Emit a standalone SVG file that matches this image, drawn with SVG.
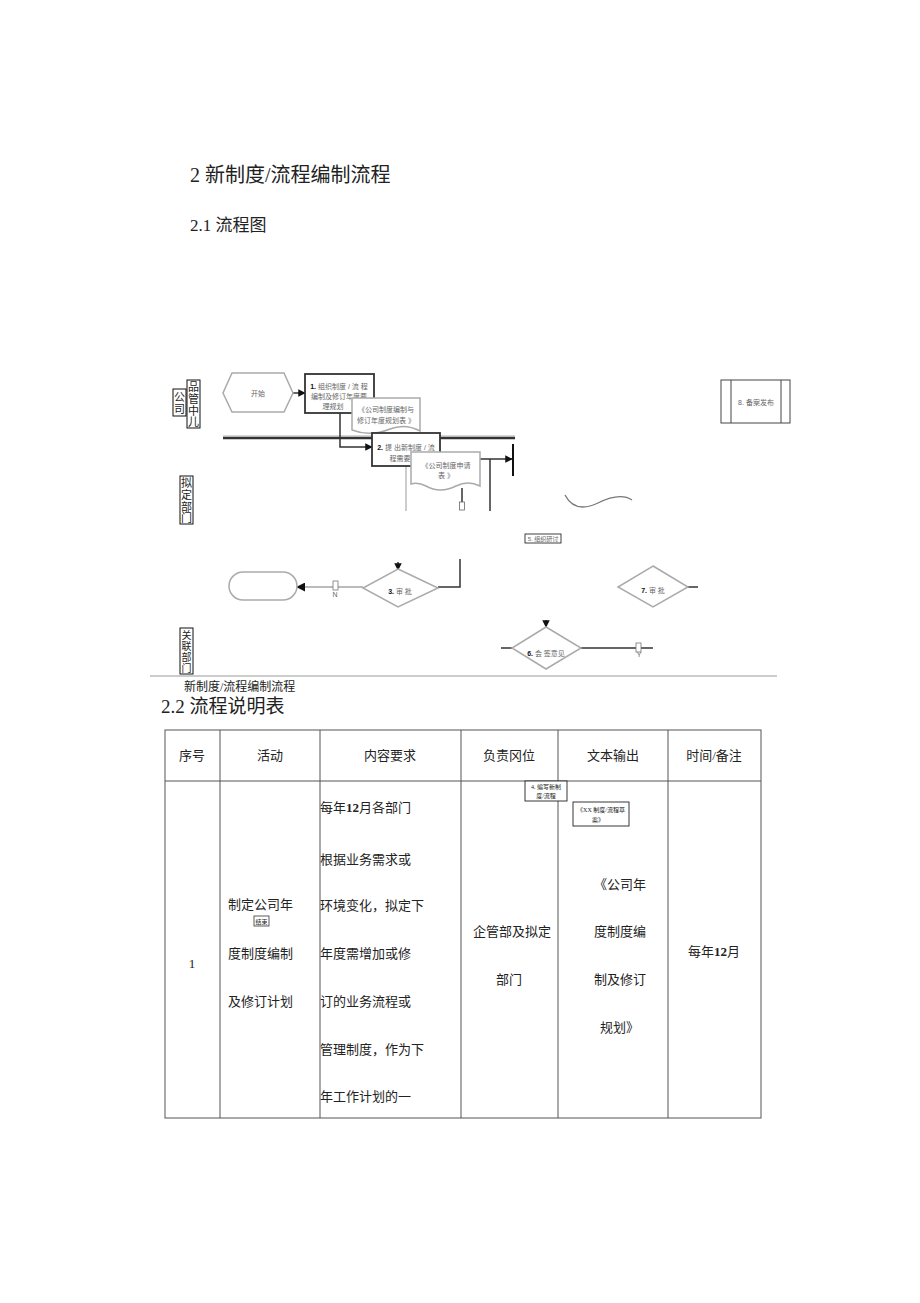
<svg xmlns="http://www.w3.org/2000/svg" width="920" height="1303" viewBox="0 0 920 1303">
<defs>
<style>
.t{font-family:"Liberation Serif","Noto Sans CJK SC",serif;fill:#222}
.s{font-family:"Liberation Sans","Noto Sans CJK SC",sans-serif;fill:#666}
.g{fill:#fff;stroke:#aaa;stroke-width:1.5}
.b{fill:#fff;stroke:#333;stroke-width:1.8}
.l{fill:none;stroke:#333;stroke-width:1.5}
.lg{fill:none;stroke:#999;stroke-width:1}
.tb{fill:none;stroke:#555;stroke-width:1}
.lb{fill:#fff;stroke:#111;stroke-width:1}
</style>
<marker id="ah" viewBox="0 0 10 10" refX="9" refY="5" markerWidth="5" markerHeight="5" orient="auto"><path d="M0,0L10,5L0,10z" fill="#111"/></marker>
</defs>
<rect width="920" height="1303" fill="#fff"/>
<text class="t" x="190" y="182" font-size="20">2 新制度/流程编制流程</text>
<text class="t" x="190" y="231" font-size="17">2.1 流程图</text>

<g id="lanes">
<rect class="lb" x="173" y="389" width="13" height="27"/>
<text class="t" x="179.5" y="401" font-size="11" text-anchor="middle">公</text>
<text class="t" x="179.5" y="413" font-size="11" text-anchor="middle">司</text>
<rect class="lb" x="187" y="380" width="13" height="48"/>
<text class="t" x="193.5" y="391" font-size="11" text-anchor="middle">品</text>
<text class="t" x="193.5" y="403" font-size="11" text-anchor="middle">管</text>
<text class="t" x="193.5" y="415" font-size="11" text-anchor="middle">中</text>
<text class="t" x="193.5" y="426" font-size="11" text-anchor="middle">儿</text>
<rect class="lb" x="180" y="476" width="13" height="48"/>
<text class="t" x="186.5" y="487" font-size="11" text-anchor="middle">拟</text>
<text class="t" x="186.5" y="499" font-size="11" text-anchor="middle">定</text>
<text class="t" x="186.5" y="511" font-size="11" text-anchor="middle">部</text>
<text class="t" x="186.5" y="522" font-size="11" text-anchor="middle">门</text>
<rect class="lb" x="180" y="628" width="13" height="46"/>
<text class="t" x="186.5" y="639" font-size="10" text-anchor="middle">关</text>
<text class="t" x="186.5" y="650" font-size="10" text-anchor="middle">联</text>
<text class="t" x="186.5" y="661" font-size="10" text-anchor="middle">部</text>
<text class="t" x="186.5" y="672" font-size="10" text-anchor="middle">门</text>
</g>

<g id="connectors">
<line x1="223" y1="438" x2="515" y2="438" stroke="#333" stroke-width="2.5"/>
<line x1="223" y1="436" x2="515" y2="436" stroke="#aaa" stroke-width="1"/>
<line class="l" x1="293" y1="393" x2="305" y2="393" marker-end="url(#ah)"/>
<polyline class="l" points="340,413 340,447 372,447" marker-end="url(#ah)"/>
<polyline class="l" points="480,459 512,459" marker-end="url(#ah)"/>
<line x1="513" y1="444" x2="513" y2="476" stroke="#111" stroke-width="2"/>
<line class="lg" x1="406" y1="466" x2="406" y2="511"/>
<line class="l" x1="462" y1="488" x2="462" y2="503" stroke-width="1"/>
<rect x="459.5" y="502" width="5" height="8" fill="#fff" stroke="#666" stroke-width="0.8"/>
<line class="l" x1="490" y1="459" x2="490" y2="511" stroke-width="1.2"/>
<polyline class="l" points="460,559 460,587 438,587"/>
<polyline class="l" points="398,562 398,570" marker-end="url(#ah)"/>
<line x1="363" y1="587" x2="297" y2="587" stroke="#bbb" stroke-width="1.8" marker-end="url(#ah)"/>
<rect x="333" y="581" width="5" height="9" fill="#fff" stroke="#777" stroke-width="0.8"/>
<text class="s" x="335" y="597" font-size="7" text-anchor="middle" fill="#333">N</text>
<line class="l" x1="688" y1="587" x2="698" y2="587"/>
<polyline class="l" points="546,620 546,627" marker-end="url(#ah)"/>
<line class="l" x1="501" y1="648" x2="512" y2="648"/>
<line class="l" x1="581" y1="648" x2="653" y2="648"/>
<rect x="636" y="643" width="5" height="9" fill="#fff" stroke="#777" stroke-width="0.8"/>
<text class="s" x="639" y="657" font-size="7" text-anchor="middle" fill="#333">Y</text>
<path d="M565,495 Q575,514 598,503 Q620,492 632,500" fill="none" stroke="#777" stroke-width="1.3"/>
<line x1="150" y1="676" x2="777" y2="676" stroke="#999" stroke-width="1"/>
</g>

<g id="start">
<polygon class="g" points="232,373 284,373 293,393 284,412 232,412 223,393"/>
<text class="s" x="258" y="396" font-size="7" text-anchor="middle">开始</text>
</g>
<g id="step1">
<rect class="b" x="305" y="374" width="69" height="39"/>
<text class="s" x="339" y="389" font-size="7" text-anchor="middle"><tspan fill="#111" font-weight="bold">1.</tspan> 组织制度 / 流 程</text>
<text class="s" x="339" y="399" font-size="7" text-anchor="middle">编制及修订年度要</text>
<text class="s" x="333" y="409" font-size="7" text-anchor="middle">理规划</text>
</g>
<g id="doc1">
<path class="g" d="M352,398 H420 V431 Q405,423 390,429 Q370,437 352,430 Z" stroke="#999" stroke-width="1.2"/>
<text class="s" x="386" y="412" font-size="7" text-anchor="middle">《公司制度编制与</text>
<text class="s" x="386" y="423" font-size="7" text-anchor="middle">修订年度规划表 》</text>
</g>
<g id="step2">
<rect class="b" x="372" y="433" width="68" height="33"/>
<text class="s" x="406" y="450" font-size="7" text-anchor="middle"><tspan fill="#111" font-weight="bold">2.</tspan> 提 出新制度 / 流</text>
<text class="s" x="400" y="461" font-size="7" text-anchor="middle">程需要</text>
</g>
<g id="doc2">
<path class="g" d="M411,452 H480 V486 Q468,480 456,486 Q440,494 426,486 Q418,482 411,484 Z" stroke="#999" stroke-width="1.2"/>
<text class="s" x="446" y="468" font-size="7" text-anchor="middle">《公司制度申请</text>
<text class="s" x="446" y="478" font-size="7" text-anchor="middle">表 》</text>
</g>
<g id="step3">
<polygon class="g" points="398,569 438,588 398,607 363,588"/>
<text class="s" x="400" y="594" font-size="7" text-anchor="middle"><tspan fill="#111" font-weight="bold">3.</tspan> 审 批</text>
</g>
<g id="end">
<rect class="g" x="229" y="572" width="68" height="28" rx="14"/>
</g>
<g id="step5">
<rect x="525" y="534" width="36" height="9" fill="#fff" stroke="#111" stroke-width="0.8"/>
<text class="s" x="543" y="541" font-size="6" text-anchor="middle" fill="#333">5. 组织研讨</text>
</g>
<g id="step7">
<polygon class="g" points="653,566 688,587 653,607 618,587"/>
<text class="s" x="653" y="593" font-size="7" text-anchor="middle"><tspan fill="#111" font-weight="bold">7.</tspan> 审 批</text>
</g>
<g id="step6">
<polygon class="g" points="546,627 581,648 546,669 512,648"/>
<text class="s" x="546" y="656" font-size="7" text-anchor="middle"><tspan fill="#111" font-weight="bold">6.</tspan> 会 签意见</text>
</g>
<g id="step8">
<rect x="721" y="380" width="69" height="43" fill="#fff" stroke="#444" stroke-width="1"/>
<line x1="731" y1="380" x2="731" y2="423" stroke="#444" stroke-width="1"/>
<line x1="781" y1="380" x2="781" y2="423" stroke="#444" stroke-width="1"/>
<text class="s" x="756" y="405" font-size="7" text-anchor="middle">8. 备案发布</text>
</g>

<text class="t" x="184" y="691" font-size="12">新制度/流程编制流程</text>
<text class="t" x="161" y="713" font-size="19">2.2 流程说明表</text>

<g id="table">
<rect class="tb" x="165" y="730" width="596" height="388"/>
<line class="tb" x1="165" y1="781" x2="761" y2="781"/>
<line class="tb" x1="220" y1="730" x2="220" y2="1118"/>
<line class="tb" x1="320" y1="730" x2="320" y2="1118"/>
<line class="tb" x1="461" y1="730" x2="461" y2="1118"/>
<line class="tb" x1="558" y1="730" x2="558" y2="1118"/>
<line class="tb" x1="668" y1="730" x2="668" y2="1118"/>
<text class="t" x="192" y="760" font-size="13" text-anchor="middle">序号</text>
<text class="t" x="270" y="760" font-size="13" text-anchor="middle">活动</text>
<text class="t" x="390" y="760" font-size="13" text-anchor="middle">内容要求</text>
<text class="t" x="509" y="760" font-size="13" text-anchor="middle">负责冈位</text>
<text class="t" x="613" y="760" font-size="13" text-anchor="middle">文本输出</text>
<text class="t" x="714" y="760" font-size="13" text-anchor="middle">时间/备注</text>
<text class="t" x="192" y="968" font-size="13" text-anchor="middle">1</text>
<text class="t" x="228" y="909" font-size="13">制定公司年</text>
<rect x="254" y="916" width="15" height="10" fill="#fff" stroke="#333" stroke-width="0.8"/>
<text class="t" x="261.5" y="924" font-size="6" text-anchor="middle">结束</text>
<text class="t" x="228" y="958" font-size="13">度制度编制</text>
<text class="t" x="228" y="1006" font-size="13">及修订计划</text>
<text class="t" x="320" y="812" font-size="13">每年<tspan font-weight="bold">12</tspan>月各部门</text>
<text class="t" x="320" y="864" font-size="13">根据业务需求或</text>
<text class="t" x="320" y="910" font-size="13">环境变化，拟定下</text>
<text class="t" x="320" y="958" font-size="13">年度需增加或修</text>
<text class="t" x="320" y="1006" font-size="13">订的业务流程或</text>
<text class="t" x="320" y="1054" font-size="13">管理制度，作为下</text>
<text class="t" x="320" y="1101" font-size="13">年工作计划的一</text>
<text class="t" x="473" y="936" font-size="13">企管部及拟定</text>
<text class="t" x="509" y="984" font-size="13" text-anchor="middle">部门</text>
<text class="t" x="594" y="889" font-size="13">《公司年</text>
<text class="t" x="594" y="936" font-size="13">度制度编</text>
<text class="t" x="594" y="984" font-size="13">制及修订</text>
<text class="t" x="600" y="1032" font-size="13">规划》</text>
<text class="t" x="714" y="956" font-size="13" text-anchor="middle">每年<tspan font-weight="bold">12</tspan>月</text>
</g>
<g id="step4">
<rect x="525" y="781" width="42" height="20" fill="#fff" stroke="#222" stroke-width="0.9"/>
<text class="t" x="546" y="789" font-size="6" text-anchor="middle">4. 编写新制</text>
<text class="t" x="546" y="798" font-size="6" text-anchor="middle">度/流程</text>
</g>
<g id="doc4">
<rect x="573" y="802" width="56" height="24" fill="#fff" stroke="#222" stroke-width="0.9"/>
<text class="t" x="601" y="812" font-size="6" text-anchor="middle">《XX 制度/流程草</text>
<text class="t" x="598" y="822" font-size="6" text-anchor="middle">案》</text>
</g>
</svg>
